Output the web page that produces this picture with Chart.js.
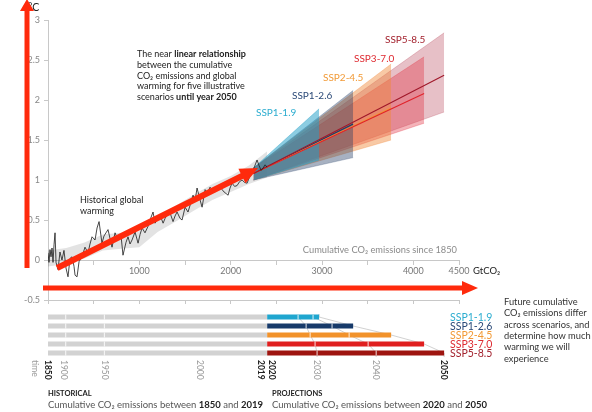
<!DOCTYPE html>
<html><head><meta charset="utf-8">
<script src="https://cdn.jsdelivr.net/npm/chart.js@4.4.1/dist/chart.umd.min.js"></script>
<style>html,body{margin:0;padding:0;background:#fff;}canvas{display:block;}</style>
</head><body>
<canvas id="c" width="592" height="412"></canvas>
<script>
// ---------- DATA ----------
const histCum = [0,11,22,33,44,55,66,77,88,110,131,153,175,197,219,241,263,285,296,318,340,372,405,438,460,482,515,537,559,591,613,635,657,679,701,734,767,800,821,854,876,898,920,953,986,1008,1030,1062,1095,1117,1150,1172,1194,1227,1260,1282,1303,1336,1369,1391,1413,1446,1468,1501,1533,1560,1588,1610,1632,1665,1687,1720,1747,1774,1801,1829,1856,1884,1906,1928,1950,1972,1993,2015,2043,2070,2098,2125,2152,2180,2207,2234,2262,2289,2311,2333,2355,2377,2399];
const histTemp = [0.09,-0.03,0.13,0.04,0.15,-0.03,0.19,0.34,-0.03,-0.12,0.10,0.00,0.12,-0.10,-0.21,0.02,0.04,-0.08,-0.19,-0.21,-0.02,0.04,0.16,0.09,0.20,0.29,0.25,0.40,0.48,0.21,0.30,0.34,0.38,0.27,0.16,0.34,0.25,0.30,0.06,0.22,0.29,0.20,0.25,0.35,0.21,0.32,0.40,0.34,0.42,0.50,0.60,0.46,0.50,0.56,0.46,0.52,0.56,0.59,0.48,0.55,0.60,0.52,0.50,0.66,0.60,0.70,0.81,0.74,0.90,0.75,0.66,0.88,0.84,0.91,0.87,0.85,0.90,0.94,0.88,0.85,0.83,0.81,0.90,0.96,0.92,0.93,0.98,1.00,0.97,0.96,1.04,1.10,1.17,1.25,1.18,1.12,1.15,1.19,1.16];

const bandCum  = [0, 200, 400, 600, 800, 1000, 1200, 1400, 1600, 1800, 2000, 2200, 2400];
const bandLow  = [-0.08, -0.05, 0.02, 0.12, 0.14, 0.16, 0.35, 0.48, 0.62, 0.75, 0.85, 0.95, 1.03];
const bandHigh = [0.12, 0.15, 0.22, 0.32, 0.34, 0.36, 0.55, 0.68, 0.82, 0.95, 1.05, 1.18, 1.36];

const scenarios   = ['SSP1-1.9', 'SSP1-2.6', 'SSP2-4.5', 'SSP3-7.0', 'SSP5-8.5'];
const fanStartCum = 2250;
const fanStartTop = 1.15;
const fanStartBottom = 1.0;
const fanStartMid = 1.08;
const fanEndCum   = [2968, 3341, 3757, 4118, 4337];
const fanEndTop   = [1.89, 2.12, 2.45, 2.54, 2.84];
const fanEndBottom= [1.25, 1.28, 1.50, 1.71, 1.85];
const centralEnd  = [1.50, 1.70, 1.90, 2.08, 2.31];

const histYears   = [1850, 1900, 1950, 2000, 2019];
const histYearCum = [0, 194, 617, 1665, 2400];
const projYears   = [2020, 2030, 2040, 2050];
const projCumSSP119 = [2400, 2738, 2902, 2968];
const projCumSSP126 = [2400, 2826, 3110, 3341];
const projCumSSP245 = [2400, 2870, 3297, 3757];
const projCumSSP370 = [2400, 2924, 3505, 4118];
const projCumSSP585 = [2400, 2946, 3593, 4337];
const projCum = [projCumSSP119, projCumSSP126, projCumSSP245, projCumSSP370, projCumSSP585];

const yTickStep = 0.5;
const xTickStep = 500;
const xLabelled = [1000, 2000, 3000, 4000, 4500];

// ---------- STYLE ----------
const FONT = 'Lato, "Open Sans", sans-serif';
const lineColors  = ['#22a8cd', '#1f3a66', '#f3972c', '#e0232b', '#a0182a'];
const labelColors = ['#2cadd0', '#2b4a78', '#f29a36', '#df2a31', '#a3222e'];
const barColors   = ['#1fa6cf', '#173a6a', '#f2922a', '#e01f1f', '#9e140f'];
const fanFill = ['rgba(35,160,200,0.52)','rgba(35,60,100,0.40)','rgba(240,135,55,0.45)','rgba(225,45,60,0.36)','rgba(175,45,70,0.30)'];
const fanEdge = ['rgba(35,160,200,0.6)','rgba(35,60,100,0.45)','rgba(240,135,55,0.5)','rgba(225,45,60,0.45)','rgba(175,45,70,0.4)'];
const RED = '#ff2a0c';

const datasets = [];
// historical band
datasets.push({ data: bandCum.map((c,i)=>({x:c,y:bandHigh[i]})), borderWidth:0, pointRadius:0, order:30, fill:false });
datasets.push({ data: bandCum.map((c,i)=>({x:c,y:bandLow[i]})), borderWidth:0, pointRadius:0, order:30, fill:'-1', backgroundColor:'rgba(0,0,0,0.11)' });
// fans
for (let i = 4; i >= 0; i--) {
  datasets.push({ data:[{x:fanStartCum,y:fanStartTop},{x:fanEndCum[i],y:fanEndTop[i]}], borderColor:fanEdge[i], borderWidth:0.6, pointRadius:0, order:10+i, fill:false });
  datasets.push({ data:[{x:fanStartCum,y:fanStartBottom},{x:fanEndCum[i],y:fanEndBottom[i]}], borderColor:fanEdge[i], borderWidth:0.6, pointRadius:0, order:10+i, fill:'-1', backgroundColor:fanFill[i] });
}
// central lines
for (let i = 4; i >= 0; i--) {
  datasets.push({ data:[{x:fanStartCum,y:fanStartMid},{x:fanEndCum[i],y:centralEnd[i]}], borderColor:lineColors[i], borderWidth:1.1, pointRadius:0, order:2, fill:false });
}
// historical line
datasets.push({ data: histCum.map((c,i)=>({x:c,y:histTemp[i]})), borderColor:'#1a1a1a', borderWidth:0.8, pointRadius:0, order:1, fill:false });

function rich(ctx, x, y, parts, size, color) {
  let cx = x;
  for (const p of parts) {
    ctx.font = (p[1] ? 'bold ' : '') + size + 'px ' + FONT;
    ctx.fillStyle = p[2] || color;
    ctx.fillText(p[0], cx, y);
    cx += ctx.measureText(p[0]).width;
  }
}
function arrow(ctx,x1,y1,x2,y2,w,hl,hw,col){
  const dx=x2-x1, dy=y2-y1, L=Math.hypot(dx,dy), ux=dx/L, uy=dy/L, nx=-uy, ny=ux;
  const bx=x2-ux*hl, by=y2-uy*hl;
  ctx.fillStyle=col; ctx.beginPath();
  ctx.moveTo(x1+nx*w/2,y1+ny*w/2); ctx.lineTo(bx+nx*w/2,by+ny*w/2); ctx.lineTo(bx+nx*hw/2,by+ny*hw/2);
  ctx.lineTo(x2,y2); ctx.lineTo(bx-nx*hw/2,by-ny*hw/2); ctx.lineTo(bx-nx*w/2,by-ny*w/2); ctx.lineTo(x1-nx*w/2,y1-ny*w/2);
  ctx.closePath(); ctx.fill();
}

const decor = {
  id: 'decor',
  afterDraw(chart) {
    const ctx = chart.ctx, xs = chart.scales.x, ys = chart.scales.y, ca = chart.chartArea;
    const X = v => xs.getPixelForValue(v), Y = v => ys.getPixelForValue(v);
    ctx.save();
    ctx.textBaseline = 'middle';
    ctx.textAlign = 'left';

    // ---- bottom timeline panel ----
    const rowY = [317, 326, 335, 344, 353], bh = 5;
    ctx.strokeStyle = '#bdbdbd'; ctx.lineWidth = 0.7;
    for (let k = 1; k < projYears.length; k++) {
      ctx.beginPath();
      ctx.moveTo(X(projCum[0][k]), rowY[0]-3);
      for (let r = 0; r < 5; r++) ctx.lineTo(X(projCum[r][k]), rowY[r]);
      ctx.lineTo(X(projCum[4][k]), rowY[4]+4);
      ctx.stroke();
    }
    for (let r = 0; r < 5; r++) {
      ctx.fillStyle = '#d2d2d2';
      ctx.fillRect(X(histYearCum[0]), rowY[r]-bh/2, X(histYearCum[4])-X(histYearCum[0]), bh);
      ctx.fillStyle = barColors[r];
      ctx.fillRect(X(projCum[r][0]), rowY[r]-bh/2, X(projCum[r][3])-X(projCum[r][0]), bh);
      ctx.fillStyle = 'rgba(255,255,255,0.85)';
      for (const c of [histYearCum[1], histYearCum[2]]) ctx.fillRect(X(c)-0.5, rowY[r]-bh/2, 1, bh);
      for (const c of [projCum[r][1], projCum[r][2]]) ctx.fillRect(X(c)-0.5, rowY[r]-bh/2, 1, bh);
    }
    // legend labels
    for (let r = 0; r < 5; r++) {
      ctx.fillStyle = '#fff'; ctx.fillRect(449, rowY[r]-5, 44, 10);
      ctx.font = '10.5px ' + FONT; ctx.fillStyle = labelColors[r];
      ctx.fillText(scenarios[r], 450, rowY[r]+0.5);
    }
    // year labels (rotated clockwise)
    const yearLab = (txt, x, bold) => {
      ctx.save(); ctx.translate(x, 360); ctx.rotate(Math.PI/2);
      ctx.font = (bold?'bold ':'') + '8.5px ' + FONT; ctx.fillStyle = bold ? '#222' : '#9a9a9a';
      ctx.textAlign = 'left'; ctx.textBaseline = 'middle';
      ctx.fillText(txt, 0, 0); ctx.restore();
    };
    yearLab('time', 35, false);
    yearLab(String(histYears[0]), X(histYearCum[0]), true);
    yearLab(String(histYears[1]), X(histYearCum[1])-2, false);
    yearLab(String(histYears[2]), X(histYearCum[2]), false);
    yearLab(String(histYears[3]), X(histYearCum[3]), false);
    yearLab(String(histYears[4]), X(histYearCum[4])-6, true);
    yearLab(String(projYears[0]), X(projCum[4][0])+5, true);
    yearLab(String(projYears[1]), X(projCum[4][1]), false);
    yearLab(String(projYears[2]), X(projCum[4][2]), false);
    yearLab(String(projYears[3]), X(projCum[4][3]), true);

    // bottom captions
    ctx.font = 'bold 7.5px ' + FONT; ctx.fillStyle = '#222';
    ctx.fillText('HISTORICAL', 48, 394);
    ctx.fillText('PROJECTIONS', 272, 394);
    rich(ctx, 48, 405, [['Cumulative CO\u2082 emissions between ',0],['1850',1,'#222'],[' and ',0],['2019',1,'#222']], 9.5, '#555');
    rich(ctx, 272, 405, [['Cumulative CO\u2082 emissions between ',0],['2020',1,'#222'],[' and ',0],['2050',1,'#222']], 9.5, '#555');

    // right-hand note
    const note = ['Future cumulative','CO\u2082 emissions differ','across scenarios, and','determine how much','warming we will','experience'];
    ctx.font = '9.3px ' + FONT; ctx.fillStyle = '#333';
    note.forEach((t,i)=>ctx.fillText(t, 504, 302 + i*11.3));

    // ---- main panel texts ----
    const ann = [
      [['The near ',0],['linear relationship',1]],
      [['between the cumulative',0]],
      [['CO\u2082 emissions and global',0]],
      [['warming for five illustrative',0]],
      [['scenarios ',0],['until year 2050',1]]
    ];
    ann.forEach((p,i)=>rich(ctx, 137, 54 + i*10.8, p, 9, '#222'));
    rich(ctx, 80, 200, [['Historical global',0]], 9, '#222');
    rich(ctx, 80, 211, [['warming',0]], 9, '#222');

    const sspPos = [[256,113],[292,96],[323,78],[354,59],[385,40]];
    ctx.font = '10px ' + FONT;
    sspPos.forEach((p,i)=>{ ctx.fillStyle = labelColors[i]; ctx.fillText(scenarios[i], p[0], p[1]); });

    ctx.textAlign = 'right'; ctx.font = '9.3px ' + FONT; ctx.fillStyle = '#8a8a8a';
    ctx.fillText('Cumulative CO\u2082 emissions since 1850', ca.right - 2, Y(0) - 10);
    ctx.textAlign = 'left'; ctx.font = '9.5px ' + FONT; ctx.fillStyle = '#222';
    ctx.fillText('GtCO\u2082', ca.right + 14, Y(0) + 11);
    ctx.font = '10.5px ' + FONT; ctx.fillStyle = '#222';
    ctx.fillText('\u00B0C', 28, 8);

    // ---- red arrows ----
    arrow(ctx, 27, 268, 27, -1, 5, 12, 14, RED);
    arrow(ctx, 43, 288, 478, 288, 5, 16, 14, RED);
    arrow(ctx, X(100), Y(-0.1), X(2300), Y(1.15), 6, 18, 16, RED);
    ctx.restore();
  }
};

new Chart(document.getElementById('c').getContext('2d'), {
  type: 'line',
  data: { datasets },
  options: {
    responsive: false, animation: false, devicePixelRatio: 1,
    layout: { padding: { top: 20, right: 133, left: 0, bottom: 0 } },
    plugins: { legend: { display: false }, tooltip: { enabled: false } },
    elements: { point: { radius: 0 }, line: { tension: 0 } },
    scales: {
      x: { type: 'linear', min: 0, max: 4500, position: 'bottom',
           afterFit(s) { s.height = 112; },
           ticks: { stepSize: xTickStep, autoSkip: false, maxRotation: 0, callback: () => '', font: { size: 8 } },
           grid: { drawOnChartArea: false, tickLength: 4, color: '#c8c8c8' },
           border: { color: '#c8c8c8' } },
      x2: { type: 'linear', min: 0, max: 4500, position: { y: 0 },
           ticks: { stepSize: xTickStep, autoSkip: false, maxRotation: 0, padding: 2,
                    callback: v => xLabelled.includes(v) ? String(v) : '',
                    color: '#777', font: { family: FONT, size: 9 } },
           grid: { drawOnChartArea: false, tickLength: 4, color: '#c8c8c8' },
           border: { color: '#c8c8c8' } },
      y: { type: 'linear', min: -0.5, max: 3, position: 'left',
           afterFit(s) { s.width = 48; },
           ticks: { stepSize: yTickStep, color: '#888', font: { family: FONT, size: 9 }, padding: 4,
                    callback: v => String(Math.round(v * 10) / 10) },
           grid: { drawOnChartArea: false, tickLength: 4, color: '#c8c8c8' },
           border: { color: '#c8c8c8' } }
    }
  },
  plugins: [decor]
});
</script>
</body></html>
